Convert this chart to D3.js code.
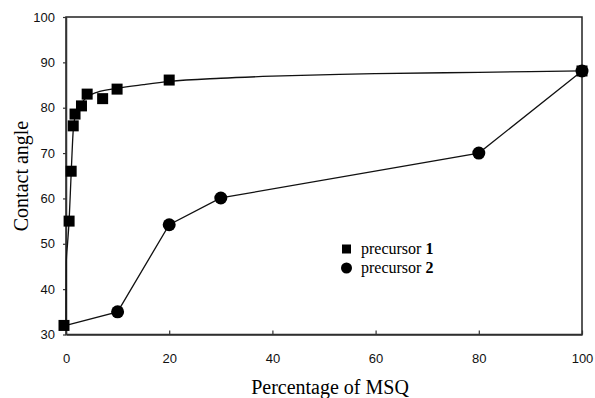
<!DOCTYPE html>
<html><head><meta charset="utf-8">
<script src="https://cdn.jsdelivr.net/npm/d3@7"></script>
<style>body{margin:0;background:#fff}svg{display:block}</style>
</head><body>
<svg id="c" width="595" height="398"></svg>
<script>
// precursor 1 (squares)
const p1X = [0, 0.6, 1, 1.4, 1.75, 3, 4.1, 7.1, 9.9, 20, 100];
const p1Y = [32, 55, 66, 76, 78.6, 80.4, 83, 82, 84.1, 86.1, 88.1];
// precursor 2 (circles)
const p2X = [10, 20, 30, 80, 100];
const p2Y = [35, 54.2, 60.1, 70, 88.1];
// line for precursor 2 starts at the shared origin point
const p2LineX = [0, 10, 20, 30, 80, 100];
const p2LineY = [32, 35, 54.2, 60.1, 70, 88.1];
// fitted curve for precursor 1
const fitX = [0, 0.05, 0.3, 0.6, 1, 1.4, 1.75, 2.2, 3, 4.1, 6, 10, 15, 20, 30, 40, 53, 60, 80, 100];
const fitY = [32, 46, 50, 55, 65.5, 75, 78, 79.5, 81, 82.4, 83.4, 84.3, 85.1, 85.8, 86.5, 86.95, 87.35, 87.5, 87.8, 88.1];
const xTicks = [0, 20, 40, 60, 80, 100];
const yTicks = [30, 40, 50, 60, 70, 80, 90, 100];
const legendLabels = [["precursor ", "1"], ["precursor ", "2"]];

const svg = d3.select("#c");
const L = 66, R = 582, T = 17, B = 334.5;
const x = d3.scaleLinear().domain([0, 100]).range([L, R]);
const y = d3.scaleLinear().domain([30, 100]).range([B, T]);

// frame
svg.append("rect").attr("x", L).attr("y", T).attr("width", R - L).attr("height", B - T)
  .attr("fill", "none").attr("stroke", "#222").attr("stroke-width", 1.5);

// x axis
const xa = svg.append("g").attr("transform", `translate(0,${B})`)
  .call(d3.axisBottom(x).tickValues(xTicks).tickSizeInner(-4).tickSizeOuter(0).tickPadding(19));
xa.select(".domain").attr("stroke", "#333").attr("stroke-width", 1.5);
xa.selectAll("line").attr("stroke", "#333").attr("stroke-width", 1.2);
xa.selectAll("text").attr("font-family", "Liberation Sans, Arial, sans-serif").attr("font-size", 13).attr("fill", "#111");

// y axis
const ya = svg.append("g").attr("transform", `translate(${L},0)`)
  .call(d3.axisLeft(y).tickValues(yTicks).tickSizeInner(3).tickSizeOuter(0).tickPadding(8));
ya.select(".domain").attr("stroke", "#333").attr("stroke-width", 1.5);
ya.selectAll("line").attr("stroke", "#333").attr("stroke-width", 1.2);
ya.selectAll("text").attr("font-family", "Liberation Sans, Arial, sans-serif").attr("font-size", 13).attr("fill", "#111");

// fit curve
const fit = fitX.map((v, i) => [v, fitY[i]]);
svg.append("path").datum(fit)
  .attr("d", d3.line().x(d => x(d[0])).y(d => y(d[1])).curve(d3.curveMonotoneX))
  .attr("fill", "none").attr("stroke", "#111").attr("stroke-width", 1.3);

// precursor 2 line
const l2 = p2LineX.map((v, i) => [v, p2LineY[i]]);
svg.append("path").datum(l2)
  .attr("d", d3.line().x(d => x(d[0])).y(d => y(d[1])))
  .attr("fill", "none").attr("stroke", "#111").attr("stroke-width", 1.3);

// squares
const sq = 11;
svg.selectAll("rect.p1").data(p1X.map((v, i) => [v, p1Y[i]])).enter().append("rect")
  .attr("class", "p1")
  .attr("x", d => x(d[0]) - sq / 2 - (d[0] === 0 ? 2 : 0)).attr("y", d => y(d[1]) - sq / 2)
  .attr("width", sq).attr("height", sq).attr("fill", "#000");

// circles
svg.selectAll("circle.p2").data(p2X.map((v, i) => [v, p2Y[i]])).enter().append("circle")
  .attr("class", "p2").attr("cx", d => x(d[0])).attr("cy", d => y(d[1])).attr("r", 6.5).attr("fill", "#000");

// legend
const lg = svg.append("g");
lg.append("rect").attr("x", 342).attr("y", 244.5).attr("width", 9).attr("height", 9).attr("fill", "#000");
lg.append("circle").attr("cx", 346.5).attr("cy", 268).attr("r", 5.5).attr("fill", "#000");
legendLabels.forEach((lab, i) => {
  const t = lg.append("text").attr("x", 361).attr("y", 253.5 + i * 19)
    .attr("font-family", "Liberation Serif, Times New Roman, serif").attr("font-size", 16).attr("fill", "#000");
  t.append("tspan").text(lab[0]);
  t.append("tspan").attr("font-weight", "bold").text(lab[1]);
});

// axis titles
svg.append("text").attr("x", (L + R) / 2 + 6).attr("y", 394).attr("text-anchor", "middle")
  .attr("font-family", "Liberation Serif, Times New Roman, serif").attr("font-size", 20).attr("fill", "#000")
  .text("Percentage of MSQ");
svg.append("text").attr("transform", "translate(28,176) rotate(-90)").attr("text-anchor", "middle")
  .attr("font-family", "Liberation Serif, Times New Roman, serif").attr("font-size", 20).attr("fill", "#000")
  .text("Contact angle");
</script>
</body></html>
